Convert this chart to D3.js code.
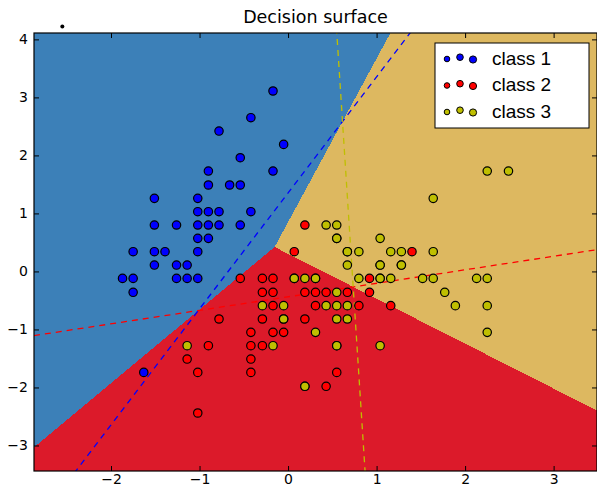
<!DOCTYPE html>
<html>
<head>
<meta charset="utf-8">
<script src="https://cdn.jsdelivr.net/npm/d3@7"></script>
<style>
  html, body { margin: 0; padding: 0; background: #ffffff; }
  svg { display: block; }
</style>
</head>
<body>
<div id="chart"></div>
<script>
// standardized iris features (sepal length, sepal width), one list per class
const class1 = [
  [-0.90, 1.03], [-1.14, -0.12], [-1.39, 0.34], [-1.51, 0.11], [-1.02, 1.26],
  [-0.54, 1.96], [-1.51, 0.80], [-1.02, 0.80], [-1.75, -0.36], [-1.14, 0.11],
  [-0.54, 1.49], [-1.26, 0.80], [-1.26, -0.12], [-1.87, -0.12], [-0.05, 2.19],
  [-0.17, 3.11], [-0.17, 1.73], [-0.90, 1.73], [-0.54, 0.80], [-0.90, 1.49],
  [-1.51, 1.26], [-0.90, 0.57], [-1.02, -0.12], [-0.78, 1.03], [-0.78, 0.80],
  [-1.26, 0.11], [-0.78, 2.42], [-0.42, 2.65], [-1.02, 0.34], [-0.42, 1.03],
  [-1.75, -0.12], [-0.90, 0.80], [-1.02, 1.03], [-1.63, -1.74], [-1.75, 0.34],
  [-1.51, 0.34], [-0.66, 1.49], [-1.02, 0.57]
];
const class2 = [
  [1.40, 0.34], [0.67, 0.34], [1.28, 0.11], [-0.42, -1.74], [0.80, -0.59],
  [-0.17, -0.59], [0.55, 0.57], [-1.14, -1.51], [0.92, -0.36], [-0.78, -0.82],
  [-1.02, -2.44], [0.07, -0.12], [0.19, -1.98], [0.31, -0.36], [-0.29, -0.36],
  [1.04, 0.11], [-0.29, -0.12], [-0.05, -0.82], [0.43, -1.98], [-0.29, -1.28],
  [0.07, 0.34], [0.31, -0.59], [0.55, -1.28], [0.67, -0.36], [0.92, -0.12],
  [1.16, -0.59], [1.04, -0.12], [0.19, -0.36], [-0.17, -1.05], [-0.42, -1.51],
  [0.19, -0.82], [-0.54, -0.12], [0.19, 0.80], [0.55, -1.74], [-0.42, -1.28],
  [-0.42, -1.05], [0.31, -0.12], [-0.05, -1.05], [-1.02, -1.74], [-0.29, -0.82],
  [-0.17, -0.12], [-0.17, -0.36], [0.43, -0.36], [-0.90, -1.28]
];
const class3 = [
  [0.55, 0.57], [-0.05, -0.82], [1.52, -0.12], [0.55, -0.36], [0.80, -0.12],
  [2.13, -0.12], [-1.14, -1.28], [1.77, -0.36], [1.04, -1.28], [1.64, 1.26],
  [0.80, 0.34], [0.67, -0.82], [1.16, -0.12], [-0.17, -1.28], [-0.05, -0.59],
  [0.67, 0.34], [2.25, 1.73], [2.25, -1.05], [0.19, -1.98], [1.28, 0.34],
  [-0.29, -0.59], [2.25, -0.59], [0.55, -0.82], [1.04, 0.57], [1.64, 0.34],
  [0.43, -0.59], [0.31, -0.12], [0.67, -0.59], [1.64, -0.12], [1.89, -0.59],
  [2.49, 1.73], [0.55, -0.59], [0.31, -1.05], [2.25, -0.12], [0.55, 0.80],
  [0.67, 0.11], [0.19, -0.12], [1.28, 0.11], [1.04, 0.11], [1.16, 0.34],
  [1.04, -0.12], [0.55, -1.28], [0.43, 0.80], [0.07, -0.12]
];

// one-vs-all hyperplanes: w0*x + w1*y + b = 0
const coefs = [[-2.0, 1.0], [0.164, -0.704], [0.733, 0.031]];
const intercepts = [-1.354, -0.308, -0.531];

const classNames = ["class 1", "class 2", "class 3"];
const pointColors = ["#0000ff", "#ff0000", "#bfbf00"];
const surfaceColors = [[60, 128, 184], [220, 26, 42], [221, 184, 96]];
const xTicks = [-2, -1, 0, 1, 2, 3];
const yTicks = [-3, -2, -1, 0, 1, 2, 3, 4];
const strayPoint = [-2.55, 4.22];

const width = 597, height = 488;
const margin = { top: 33, right: 0, bottom: 17, left: 34 };
const plotW = width - margin.left - margin.right;
const plotH = height - margin.top - margin.bottom;

const allPts = class1.concat(class2, class3);
const xExt = d3.extent(allPts, d => d[0]);
const yExt = d3.extent(allPts, d => d[1]);

const x = d3.scaleLinear().domain([xExt[0] - 1, xExt[1] + 1]).range([0, plotW]);
const y = d3.scaleLinear().domain([yExt[0] - 1, yExt[1] + 1]).range([plotH, 0]);

const svg = d3.select("#chart").append("svg")
    .attr("width", width)
    .attr("height", height)
    .style("font-family", "'DejaVu Sans', sans-serif");

svg.append("defs").append("clipPath")
    .attr("id", "plotclip")
    .append("rect")
    .attr("width", plotW)
    .attr("height", plotH);

const g = svg.append("g")
    .attr("transform", `translate(${margin.left},${margin.top})`);

// decision surface: argmax of the three scores, painted per pixel
function predict(px, py) {
    let best = 0, bestScore = -Infinity;
    for (let k = 0; k < 3; k++) {
        const s = coefs[k][0] * px + coefs[k][1] * py + intercepts[k];
        if (s > bestScore) { bestScore = s; best = k; }
    }
    return best;
}

const canvas = document.createElement("canvas");
canvas.width = plotW;
canvas.height = plotH;
const ctx = canvas.getContext("2d");
const img = ctx.createImageData(plotW, plotH);
for (let j = 0; j < plotH; j++) {
    const vy = y.invert(j + 0.5);
    for (let i = 0; i < plotW; i++) {
        const c = surfaceColors[predict(x.invert(i + 0.5), vy)];
        const o = (j * plotW + i) * 4;
        img.data[o] = c[0];
        img.data[o + 1] = c[1];
        img.data[o + 2] = c[2];
        img.data[o + 3] = 255;
    }
}
ctx.putImageData(img, 0, 0);

g.append("image")
    .attr("width", plotW)
    .attr("height", plotH)
    .attr("href", canvas.toDataURL());

// hyperplanes, dashed
const plotArea = g.append("g").attr("clip-path", "url(#plotclip)");
const [x0, x1] = x.domain();
coefs.forEach((w, k) => {
    const b = intercepts[k];
    const lineY = v => -(w[0] * v + b) / w[1];
    plotArea.append("line")
        .attr("x1", x(x0)).attr("y1", y(lineY(x0)))
        .attr("x2", x(x1)).attr("y2", y(lineY(x1)))
        .attr("stroke", pointColors[k])
        .attr("stroke-width", 1.3)
        .attr("stroke-dasharray", "6,5");
});

// points
[class1, class2, class3].forEach((pts, k) => {
    plotArea.append("g")
        .selectAll("circle")
        .data(pts)
        .join("circle")
        .attr("cx", d => x(d[0]))
        .attr("cy", d => y(d[1]))
        .attr("r", 4.2)
        .attr("fill", pointColors[k])
        .attr("stroke", "#000")
        .attr("stroke-width", 1.2);
});

// axes: ticks inside on all four sides
const tickLen = 5;
const fmt = d3.format("d");
g.append("g")
    .attr("transform", `translate(0,${plotH})`)
    .call(d3.axisBottom(x).tickValues(xTicks).tickFormat(fmt).tickSizeInner(-tickLen).tickSizeOuter(0).tickPadding(3))
    .call(a => a.select(".domain").remove());
g.append("g")
    .call(d3.axisTop(x).tickValues(xTicks).tickSizeInner(-tickLen).tickSizeOuter(0).tickFormat(""))
    .call(a => a.select(".domain").remove());
g.append("g")
    .call(d3.axisLeft(y).tickValues(yTicks).tickFormat(fmt).tickSizeInner(-tickLen).tickSizeOuter(0).tickPadding(6))
    .call(a => a.select(".domain").remove());
g.append("g")
    .attr("transform", `translate(${plotW},0)`)
    .call(d3.axisRight(y).tickValues(yTicks).tickSizeInner(-tickLen).tickSizeOuter(0).tickFormat(""))
    .call(a => a.select(".domain").remove());

g.selectAll(".tick text")
    .style("font-family", "'DejaVu Sans', sans-serif")
    .style("font-size", "14px")
    .attr("fill", "#000");
g.selectAll(".tick line").attr("stroke", "#000");

g.append("rect")
    .attr("width", plotW)
    .attr("height", plotH)
    .attr("fill", "none")
    .attr("stroke", "#000")
    .attr("stroke-width", 1.2);

// title
svg.append("text")
    .attr("x", margin.left + plotW / 2)
    .attr("y", 23)
    .attr("text-anchor", "middle")
    .style("font-size", "17.5px")
    .text("Decision surface");

// stray dot above the axes
g.append("circle")
    .attr("cx", x(strayPoint[0]))
    .attr("cy", y(strayPoint[1]))
    .attr("r", 2)
    .attr("fill", "#000");

// legend
const legend = svg.append("g").attr("transform", "translate(435,43)");
legend.append("rect")
    .attr("width", 154)
    .attr("height", 85)
    .attr("fill", "#fff")
    .attr("stroke", "#000")
    .attr("stroke-width", 1);

const markerDx = [12, 25, 38];
const markerDy = [1, -0.8, 1.5];
const markerR = [2.8, 3.3, 3.6];
classNames.forEach((name, k) => {
    const row = legend.append("g").attr("transform", `translate(0,${15 + k * 26.5})`);
    markerDx.forEach((dx, m) => {
        row.append("circle")
            .attr("cx", dx)
            .attr("cy", markerDy[m])
            .attr("r", markerR[m])
            .attr("fill", pointColors[k])
            .attr("stroke", "#000")
            .attr("stroke-width", 1);
    });
    row.append("text")
        .attr("x", 57)
        .attr("y", 6.5)
        .style("font-family", "'Liberation Sans', Arial, sans-serif")
        .style("font-size", "19px")
        .text(name);
});
</script>
</body>
</html>
